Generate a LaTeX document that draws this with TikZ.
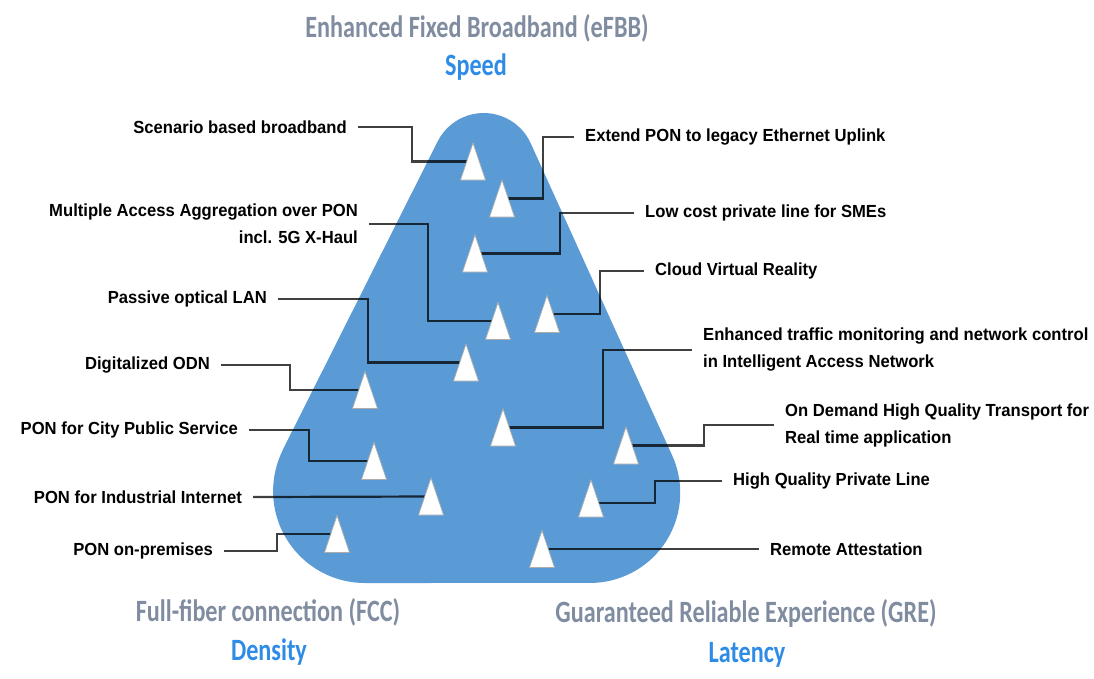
\documentclass[tikz,border=0pt]{standalone}
\usepackage{fontspec}
\newfontfamily\labfont{Liberation Sans}[FakeStretch=0.95]
\newfontfamily\titfont{Carlito}[FakeStretch=0.78]
\usetikzlibrary{calc}
\definecolor{blobblue}{HTML}{5B9BD5}
\definecolor{titgrey}{HTML}{808CA0}
\definecolor{titblue}{HTML}{2E8CE6}
\newcommand\mytri[1]{\draw[trishape] ($(#1)+(-12.5,18.5)$) -- ($(#1)+(0,-18.5)$) -- ($(#1)+(12.5,18.5)$) -- cycle;}
\begin{document}
\begin{tikzpicture}[x=1pt,y=-1pt,
  lab/.style={font=\labfont\bfseries\fontsize{17.5}{27}\selectfont, inner sep=0pt, text=black},
  tit/.style={font=\titfont\bfseries\fontsize{31}{36}\selectfont, inner sep=0pt, text=titgrey},
  sub/.style={font=\titfont\bfseries\fontsize{31}{36}\selectfont, inner sep=0pt, text=titblue},
  conn/.style={draw=black, draw opacity=0.75, line width=2.2pt},
  trishape/.style={fill=white, draw=gray!65, line width=0.7pt}
]
\useasboundingbox (0,0) rectangle (1094,678);
\fill[white] (0,0) rectangle (1094,678);

% rounded triangle
\fill[blobblue] (282.8,449.8) -- (437.6,141.5)
  arc[start angle=-153.4, end angle=-24.3, radius=51.6]
  -- (672.2,455.5)
  arc[start angle=-24.4, end angle=90, radius=90.2]
  -- (365,583)
  arc[start angle=90, end angle=206.7, radius=91.9] -- cycle;

% triangle marks (centres)
\coordinate (tA) at (473,161.5);
\coordinate (tB) at (502,198.5);
\coordinate (tC) at (475,253.5);
\coordinate (tD) at (547,314);
\coordinate (tE) at (498,321);
\coordinate (tF) at (466,362.5);
\coordinate (tG) at (365,390);
\coordinate (tH) at (503,427.5);
\coordinate (tI) at (626,445.5);
\coordinate (tJ) at (591,498.5);
\coordinate (tK) at (542,549);
\coordinate (tL) at (374,461);
\coordinate (tM) at (431,496.5);
\coordinate (tN) at (337,534);

% labels left
\node[lab, anchor=east] (lA) at (347,127) {Scenario based broadband};
\node[lab, anchor=east, align=right] (lE) at (358,224) {Multiple Access Aggregation over PON\\incl. 5G X-Haul};
\node[lab, anchor=east] (lF) at (267,299) {Passive optical LAN};
\node[lab, anchor=east] (lG) at (210,365) {Digitalized ODN};
\node[lab, anchor=east] (lL) at (238,430) {PON for City Public Service};
\node[lab, anchor=east] (lM) at (242,497) {PON for Industrial Internet};
\node[lab, anchor=east] (lN) at (213,551) {PON on-premises};
% labels right
\node[lab, anchor=west] (lB) at (585,137) {Extend PON to legacy Ethernet Uplink};
\node[lab, anchor=west] (lC) at (645,213) {Low cost private line for SMEs};
\node[lab, anchor=west] (lD) at (655,271) {Cloud Virtual Reality};
\node[lab, anchor=west, align=left] (lH) at (703,350) {Enhanced traffic monitoring and network control\\in Intelligent Access Network};
\node[lab, anchor=west, align=left] (lI) at (785,425) {On Demand High Quality Transport for\\Real time application};
\node[lab, anchor=west] (lJ) at (733,481) {High Quality Private Line};
\node[lab, anchor=west] (lK) at (770,549) {Remote Attestation};

% connectors
\draw[conn] ([xshift=11pt]lA.east) -- ++(54,0) |- (tA);
\draw[conn] ([xshift=11pt]lE.east) -- ++(59,0) |- (tE);
\draw[conn] ([xshift=11pt]lF.east) -- ++(90,0) |- (tF);
\draw[conn] ([xshift=11pt]lG.east) -- ++(69,0) |- (tG);
\draw[conn] ([xshift=11pt]lL.east) -- ++(60,0) |- (tL);
\draw[conn] ([xshift=11pt]lM.east) -- (tM);
\draw[conn] ([xshift=11pt]lN.east) -- ++(53,0) |- (tN);
\draw[conn] ([xshift=-11pt]lB.west) -- ++(-31,0) |- (tB);
\draw[conn] ([xshift=-11pt]lC.west) -- ++(-74,0) |- (tC);
\draw[conn] ([xshift=-11pt]lD.west) -- ++(-44,0) |- (tD);
\draw[conn] ([xshift=-11pt]lH.west) -- ++(-89,0) |- (tH);
\draw[conn] ([xshift=-11pt]lI.west) -- ++(-70,0) |- (tI);
\draw[conn] ([xshift=-11pt]lJ.west) -- ++(-67,0) |- ([yshift=-4.5pt]tJ);
\draw[conn] ([xshift=-11pt]lK.west) -- (tK);

% triangles on top
\mytri{tA}\mytri{tB}\mytri{tC}\mytri{tD}\mytri{tE}\mytri{tF}\mytri{tG}
\mytri{tH}\mytri{tI}\mytri{tJ}\mytri{tK}\mytri{tL}\mytri{tM}\mytri{tN}

% titles
\node[tit] (tEFBB) at (477,28) {Enhanced Fixed Broadband (eFBB)};
\node[sub] (sSpeed) at (476,67) {Speed};
\node[tit] (tFCC) at (268,612) {Full-fiber connection (FCC)};
\node[sub] (sDens) at (269,652) {Density};
\node[tit] (tGRE) at (746,613) {Guaranteed Reliable Experience (GRE)};
\node[sub] (sLat) at (747,655) {Latency};
\end{tikzpicture}
\end{document}
